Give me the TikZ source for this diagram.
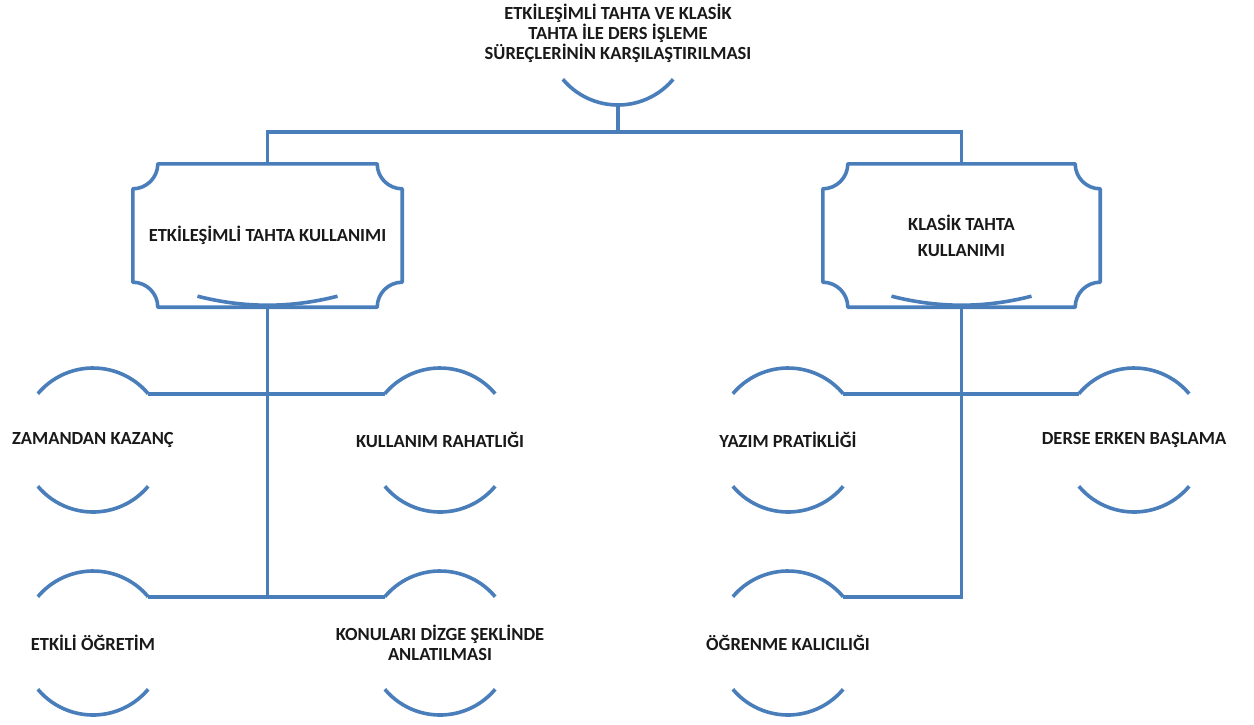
\documentclass[tikz,border=0pt]{standalone}
\usepackage{fontspec}
\setmainfont{Carlito}
\usetikzlibrary{calc}
\definecolor{linkblue}{RGB}{74,126,187}
\definecolor{inkgray}{RGB}{25,25,25}

% blue connector / outline style
\tikzset{
  blueline/.style={draw=linkblue,line width=3.6pt},
  lbl/.style={font=\fontsize{18.5}{20}\selectfont\bfseries,text=inkgray,align=center,inner sep=0pt},
  plaquebox/.style={lbl,minimum height=143pt,inner sep=0pt},
}

% a box with concave quarter-circle corners and a shallow arc on its bottom edge
\newcommand\plaque[1]{%
  \draw[blueline,line join=round]
    ($(#1.north west)+(25,0)$) -- ($(#1.north east)+(-25,0)$)
    arc[start angle=180,end angle=90,radius=25] -- ($(#1.south east)+(0,-25)$)
    arc[start angle=270,end angle=180,radius=25] -- ($(#1.south west)+(25,0)$)
    arc[start angle=0,end angle=-90,radius=25] -- ($(#1.north west)+(0,25)$)
    arc[start angle=90,end angle=0,radius=25] -- cycle;
  \draw[blueline]
    ($(#1.south)+(-70,-11)$) .. controls ($(#1.south)+(-23,1)$) and ($(#1.south)+(23,1)$) .. ($(#1.south)+(70,-11)$);
}

% upper and lower arcs around a label, with named end points
\newcommand\leafarcs[1]{%
  \coordinate (#1-tl) at ([shift={(220:72)}]#1.center);
  \coordinate (#1-tr) at ([shift={(320:72)}]#1.center);
  \draw[blueline] (#1-tl) arc[start angle=220,end angle=320,radius=72];
  \draw[blueline] ([shift={(140:72)}]#1.center) arc[start angle=140,end angle=40,radius=72];
}

\begin{document}
\begin{tikzpicture}[x=1pt,y=-1pt]
  \useasboundingbox (0,0) rectangle (1254,724);

  % title
  \node[lbl] (title) at (618,33) {ETKİLEŞİMLİ TAHTA VE KLASİK\\TAHTA İLE DERS İŞLEME\\SÜREÇLERİNİN KARŞILAŞTIRILMASI};
  \coordinate (title-b) at ([shift={(90:72)}]title.center);
  \draw[blueline] ([shift={(140:72)}]title.center) arc[start angle=140,end angle=40,radius=72];
  \coordinate (bar) at (618,132);

  % the two main boxes
  \node[plaquebox,minimum width=269pt] (lbox) at (267.5,235.5) {ETKİLEŞİMLİ TAHTA KULLANIMI};
  \node[plaquebox,minimum width=277pt] (rbox) at (961.5,235.5) {KLASİK TAHTA\\[6pt]KULLANIMI};
  \plaque{lbox}
  \plaque{rbox}

  % leaves under the left box
  \node[lbl] (l1) at (93,440) {ZAMANDAN KAZANÇ};
  \node[lbl] (l2) at (440,440) {KULLANIM RAHATLIĞI};
  \node[lbl] (l3) at (93,643) {ETKİLİ ÖĞRETİM};
  \node[lbl] (l4) at (440,643) {KONULARI DİZGE ŞEKLİNDE\\ANLATILMASI};
  % leaves under the right box
  \node[lbl] (r1) at (788,440) {YAZIM PRATİKLİĞİ};
  \node[lbl] (r2) at (1134,440) {DERSE ERKEN BAŞLAMA};
  \node[lbl] (r3) at (788,643) {ÖĞRENME KALICILIĞI};
  \foreach \n in {l1,l2,l3,l4,r1,r2,r3} {\leafarcs{\n}}

  % connectors
  \draw[blueline] (title-b) -- (bar);
  \draw[blueline] (lbox.north) |- (bar) -| (rbox.north);
  \draw[blueline] (lbox.south) -- (lbox.south |- l3-tr);
  \draw[blueline] (l1-tr) -- (l2-tl);
  \draw[blueline] (l3-tr) -- (l4-tl);
  \draw[blueline] (rbox.south) |- (r3-tr);
  \draw[blueline] (r1-tr) -- (r2-tl);
\end{tikzpicture}
\end{document}
